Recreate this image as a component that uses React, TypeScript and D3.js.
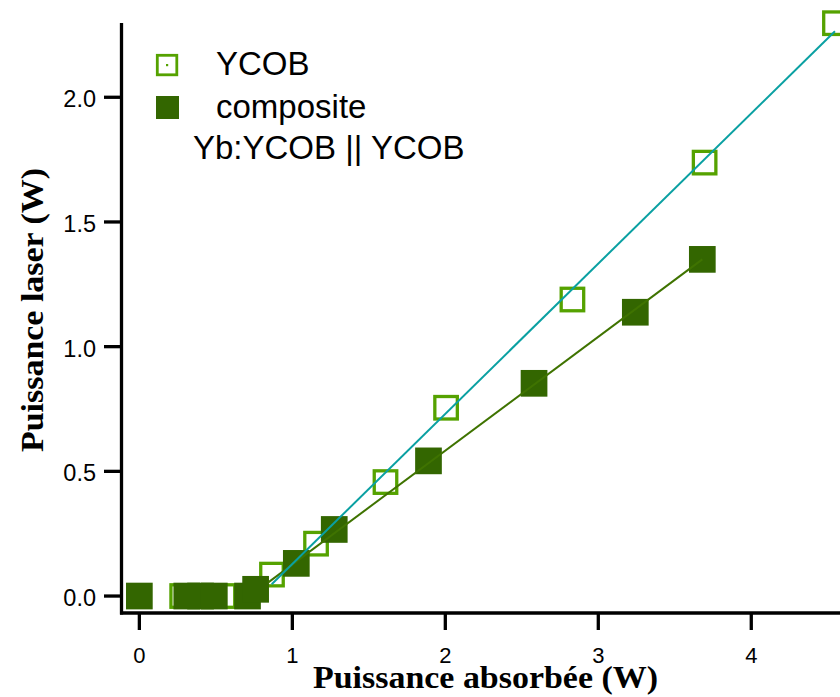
import React from "react";
import * as d3 from "d3";

const ycobX = [0.28, 0.4, 0.55, 0.867, 1.155, 1.609, 2.005, 2.831, 3.695, 4.547];
const ycobY = [0, 0, 0, 0.086, 0.21, 0.457, 0.755, 1.189, 1.738, 2.297];
const compX = [0, 0.31, 0.4, 0.49, 0.707, 0.76, 1.026, 1.274, 1.89, 2.58, 3.242, 3.68];
const compY = [0, 0, 0, 0, 0, 0.027, 0.131, 0.267, 0.542, 0.853, 1.138, 1.35];
const ycobFitX = [0.865, 4.547];
const ycobFitY = [0.047, 2.265];
const compFitX = [0.843, 3.68];
const compFitY = [0.055, 1.35];
const xTicks = [0, 1, 2, 3, 4];
const yTicks = [0, 0.5, 1.0, 1.5, 2.0];
const legendLabels = ["YCOB", "composite"];
const legendNote = "Yb:YCOB || YCOB";
const xTitle = "Puissance absorbée (W)";
const yTitle = "Puissance laser (W)";

const W = 840;
const H = 697;
const OPEN = "#55a200";
const FILL = "#336600";
const TEAL = "#0aa0a2";
const DARK = "#3f7300";

export default function App() {
  const x = d3.scaleLinear().domain([-0.12, 4.58]).range([121, 840]);
  const y = d3.scaleLinear().domain([-0.068, 2.297]).range([613, 23.2]);
  const line = d3
    .line<[number, number]>()
    .x((d) => x(d[0]))
    .y((d) => y(d[1]));
  const ycobFit: [number, number][] = ycobFitX.map((v, i) => [v, ycobFitY[i]]);
  const compFit: [number, number][] = compFitX.map((v, i) => [v, compFitY[i]]);
  const openS = 22.5;
  const fillS = 26.7;
  const sans = "'Liberation Sans', Arial, sans-serif";
  const serif = "'Liberation Serif', 'Times New Roman', serif";

  return (
    <svg
      width={W}
      height={H}
      style={{ position: "absolute", left: 0, top: 0, background: "#fff" }}
    >
      {/* open squares */}
      <g>
        {ycobX.map((v, i) => (
          <rect
            key={"o" + i}
            x={x(v) - openS / 2}
            y={y(ycobY[i]) - openS / 2}
            width={openS}
            height={openS}
            fill="#fff"
            stroke={OPEN}
            strokeWidth={3.3}
          />
        ))}
      </g>
      {/* filled squares */}
      <g>
        {compX.map((v, i) => (
          <rect
            key={"f" + i}
            x={x(v) - fillS / 2}
            y={y(compY[i]) - fillS / 2}
            width={fillS}
            height={fillS}
            fill={FILL}
          />
        ))}
      </g>
      {/* fit lines */}
      <path d={line(compFit) || ""} fill="none" stroke={DARK} strokeWidth={2} />
      <path d={line(ycobFit) || ""} fill="none" stroke={TEAL} strokeWidth={2} />

      {/* axes */}
      <line x1={121.5} x2={121.5} y1={23} y2={614.5} stroke="#000" strokeWidth={3.3} />
      <line x1={120} x2={840} y1={613} y2={613} stroke="#000" strokeWidth={3.5} />
      {yTicks.map((t) => (
        <g key={"yt" + t}>
          <line x1={104} x2={121} y1={y(t)} y2={y(t)} stroke="#000" strokeWidth={3.3} />
          <text
            x={96}
            y={y(t) + 10}
            textAnchor="end"
            fontFamily={sans}
            fontSize={23.5}
            fill="#000"
          >
            {t.toFixed(1)}
          </text>
        </g>
      ))}
      {xTicks.map((t) => (
        <g key={"xt" + t}>
          <line x1={x(t)} x2={x(t)} y1={613} y2={630} stroke="#000" strokeWidth={3.3} />
          <text
            x={x(t)}
            y={662.7}
            textAnchor="middle"
            fontFamily={sans}
            fontSize={22}
            fill="#000"
          >
            {t}
          </text>
        </g>
      ))}

      {/* axis titles */}
      <text
        x={485.5}
        y={688}
        textAnchor="middle"
        fontFamily={serif}
        fontWeight="bold"
        fontSize={31}
        textLength={345}
        lengthAdjust="spacingAndGlyphs"
        fill="#000"
      >
        {xTitle}
      </text>
      <text
        transform="translate(43,310) rotate(-90)"
        textAnchor="middle"
        fontFamily={serif}
        fontWeight="bold"
        fontSize={32}
        textLength={284}
        lengthAdjust="spacingAndGlyphs"
        fill="#000"
      >
        {yTitle}
      </text>

      {/* legend */}
      <rect x={157.3} y={55.3} width={19.5} height={19.5} fill="#fff" stroke={OPEN} strokeWidth={2.8} />
      <rect x={166} y={64} width={2.2} height={2.2} fill={OPEN} />
      <rect x={156} y={96} width={23} height={23} fill={FILL} />
      <text x={216} y={75} fontFamily={sans} fontSize={33} fill="#000">
        {legendLabels[0]}
      </text>
      <text x={216} y={118} fontFamily={sans} fontSize={33} fill="#000">
        {legendLabels[1]}
      </text>
      <text x={193} y={159} fontFamily={sans} fontSize={33} fill="#000">
        {legendNote}
      </text>
    </svg>
  );
}
